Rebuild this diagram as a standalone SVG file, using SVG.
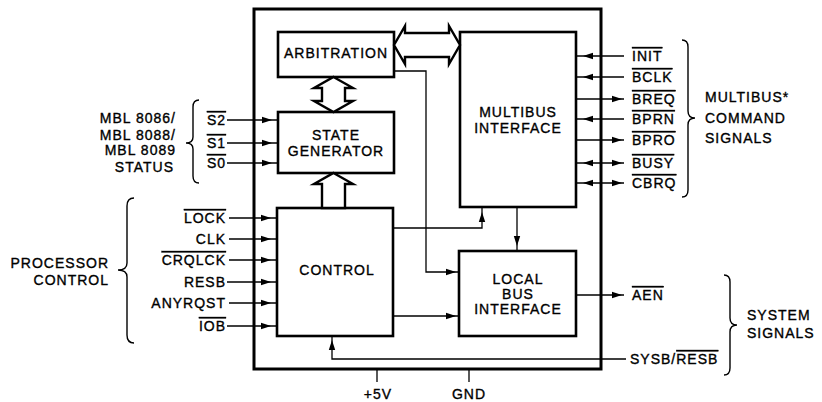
<svg xmlns="http://www.w3.org/2000/svg" width="822" height="402" viewBox="0 0 822 402">
<style>
.box{fill:#fff;stroke:#000;stroke-width:2.6}
.chip{fill:none;stroke:#000;stroke-width:3}
.w{fill:none;stroke:#000;stroke-width:1.3}
.hol{fill:#fff;stroke:#000;stroke-width:2.4;stroke-linejoin:miter}
.br{fill:none;stroke:#000;stroke-width:1.4}
text{font-family:"Liberation Sans",Arial,sans-serif;font-size:14px;letter-spacing:1px;fill:#000;stroke:#000;stroke-width:0.35}
.m{text-anchor:middle}
.e{text-anchor:end}
.ov{text-decoration:overline}
</style>
<defs>
<path id="ah" d="M0,0 L-10,-3.2 L-10,3.2 Z" fill="#000"/>
</defs>
<rect x="0" y="0" width="822" height="402" fill="#fff"/>

<g id="chip"><rect class="chip" x="254" y="9" width="347" height="360"/></g>

<g id="arbitration"><rect class="box" x="278" y="32" width="116" height="45"/><text class="m" x="336" y="58">ARBITRATION</text></g>
<g id="state-generator"><rect class="box" x="278" y="112" width="116" height="61"/><text class="m" x="336" y="140">STATE</text><text class="m" x="336" y="156">GENERATOR</text></g>
<g id="multibus-interface"><rect class="box" x="460" y="32" width="116" height="175"/><text class="m" x="518" y="117">MULTIBUS</text><text class="m" x="518" y="133">INTERFACE</text></g>
<g id="control"><rect class="box" x="277" y="208" width="116" height="128"/><text class="m" x="337" y="275">CONTROL</text></g>
<g id="local-bus-interface"><rect class="box" x="459" y="251" width="117" height="85"/><text class="m" x="518" y="284">LOCAL</text><text class="m" x="518" y="299">BUS</text><text class="m" x="518" y="314">INTERFACE</text></g>

<g id="connectors">
<polygon class="hol" points="394,45 405,26 405,33 449,33 449,26 460,45 449,64 449,57 405,57 405,64"/>
<polygon class="hol" points="333.5,77 353,88 345,88 345,101 353,101 333.5,112 314,101 322,101 322,88 314,88"/>
<polygon class="hol" points="333.5,173 353,184 345,184 345,208 322,208 322,184 314,184"/>

<polyline class="w" points="394,71 426,71 426,272 459,272"/>
<use href="#ah" transform="translate(456,272)"/>
<polyline class="w" points="393,228 482,228 482,207"/>
<use href="#ah" transform="translate(482,212) rotate(-90)"/>
<line class="w" x1="517" y1="207" x2="517" y2="251"/>
<use href="#ah" transform="translate(517,246) rotate(90)"/>
<line class="w" x1="393" y1="316" x2="459" y2="316"/>
<use href="#ah" transform="translate(456,316)"/>
<polyline class="w" points="626,359 332,359 332,336"/>
<use href="#ah" transform="translate(332,340) rotate(-90)"/>

<line class="w" x1="227" y1="120" x2="278" y2="120"/><use href="#ah" transform="translate(272,120)"/>
<line class="w" x1="227" y1="143" x2="278" y2="143"/><use href="#ah" transform="translate(272,143)"/>
<line class="w" x1="227" y1="163" x2="278" y2="163"/><use href="#ah" transform="translate(272,163)"/>

<line class="w" x1="229" y1="218" x2="277" y2="218"/><use href="#ah" transform="translate(271,218)"/>
<line class="w" x1="229" y1="239" x2="277" y2="239"/><use href="#ah" transform="translate(271,239)"/>
<line class="w" x1="229" y1="260" x2="277" y2="260"/><use href="#ah" transform="translate(271,260)"/>
<line class="w" x1="227" y1="282" x2="277" y2="282"/><use href="#ah" transform="translate(271,282)"/>
<line class="w" x1="229" y1="303" x2="277" y2="303"/><use href="#ah" transform="translate(271,303)"/>
<line class="w" x1="227" y1="326" x2="277" y2="326"/><use href="#ah" transform="translate(271,326)"/>

<line class="w" x1="576" y1="56" x2="624" y2="56"/><use href="#ah" transform="translate(583,56) rotate(180)"/>
<line class="w" x1="576" y1="77" x2="624" y2="77"/><use href="#ah" transform="translate(583,77) rotate(180)"/>
<line class="w" x1="576" y1="99" x2="624" y2="99"/><use href="#ah" transform="translate(622,99)"/>
<line class="w" x1="576" y1="119" x2="624" y2="119"/><use href="#ah" transform="translate(583,119) rotate(180)"/>
<line class="w" x1="576" y1="140" x2="624" y2="140"/><use href="#ah" transform="translate(622,140)"/>
<line class="w" x1="576" y1="163" x2="624" y2="163"/><use href="#ah" transform="translate(583,163) rotate(180)"/><use href="#ah" transform="translate(622,163)"/>
<line class="w" x1="576" y1="183" x2="624" y2="183"/><use href="#ah" transform="translate(583,183) rotate(180)"/><use href="#ah" transform="translate(622,183)"/>

<line class="w" x1="576" y1="295" x2="624" y2="295"/><use href="#ah" transform="translate(622,295)"/>

<line class="w" x1="377" y1="369" x2="377" y2="382"/>
<line class="w" x1="469" y1="369" x2="469" y2="382"/>
</g>

<g id="labels">
<text class="e" x="226" y="125"><tspan class="ov">S2</tspan></text>
<text class="e" x="226" y="148"><tspan class="ov">S1</tspan></text>
<text class="e" x="226" y="168"><tspan class="ov">S0</tspan></text>
<text class="e" x="176" y="123">MBL 8086/</text>
<text class="e" x="176" y="140">MBL 8088/</text>
<text class="e" x="176" y="155">MBL 8089</text>
<text class="e" x="174" y="172">STATUS</text>

<text class="e" x="226" y="223"><tspan class="ov">LOCK</tspan></text>
<text class="e" x="226" y="244">CLK</text>
<text class="e" x="226" y="265"><tspan class="ov">CRQLCK</tspan></text>
<text class="e" x="226" y="287">RESB</text>
<text class="e" x="226" y="308">ANYRQST</text>
<text class="e" x="226" y="331"><tspan class="ov">IOB</tspan></text>
<text class="e" x="109" y="268">PROCESSOR</text>
<text class="e" x="109" y="285">CONTROL</text>

<text x="632" y="61"><tspan class="ov">INIT</tspan></text>
<text x="632" y="82"><tspan class="ov">BCLK</tspan></text>
<text x="632" y="104"><tspan class="ov">BREQ</tspan></text>
<text x="632" y="124"><tspan class="ov">BPRN</tspan></text>
<text x="632" y="145"><tspan class="ov">BPRO</tspan></text>
<text x="632" y="168"><tspan class="ov">BUSY</tspan></text>
<text x="632" y="188"><tspan class="ov">CBRQ</tspan></text>
<text x="705" y="102">MULTIBUS*</text>
<text x="705" y="123">COMMAND</text>
<text x="705" y="143">SIGNALS</text>

<text x="632" y="300"><tspan class="ov">AEN</tspan></text>
<text x="630" y="364">SYSB/<tspan class="ov">RESB</tspan></text>
<text x="747" y="320">SYSTEM</text>
<text x="747" y="338">SIGNALS</text>

<text class="m" x="378" y="399">+5V</text>
<text class="m" x="469" y="399">GND</text>

<path class="br" d="M199,100 Q193,100 193,107 L193,137 Q193,143 186,143 Q193,143 193,149 L193,176 Q193,183 199,183"/>
<path class="br" d="M134,198 Q127,198 127,206 L127,263 Q127,270 118,270 Q127,270 127,277 L127,335 Q127,343 134,343"/>
<path class="br" d="M682,40 Q688,40 688,47 L688,111 Q688,118 695,118 Q688,118 688,125 L688,190 Q688,197 682,197"/>
<path class="br" d="M724,275 Q730,275 730,282 L730,318 Q730,325 737,325 Q730,325 730,332 L730,368 Q730,375 724,375"/>
</g>
</svg>
